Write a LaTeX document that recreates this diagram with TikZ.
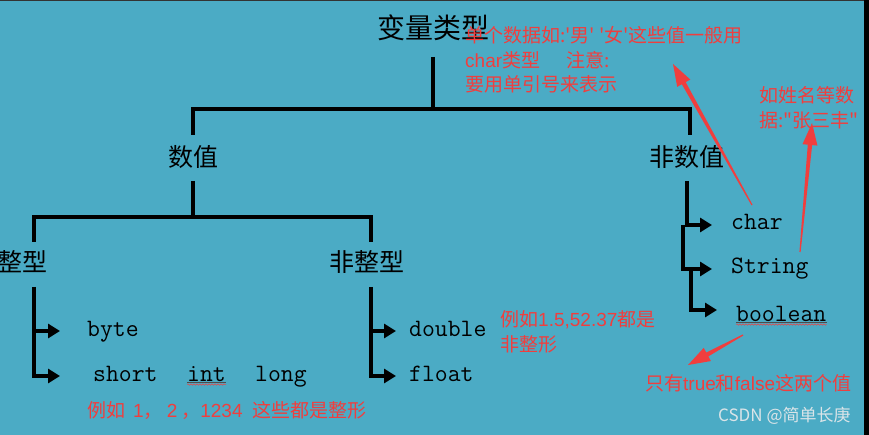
\documentclass[tikz,border=0pt]{standalone}
\usepackage{fontspec}
\usepackage{tikz}
\usetikzlibrary{arrows.meta,calc,decorations.pathmorphing}
\newfontfamily\cjk{Noto Sans CJK SC}[Ligatures=TeXOff]
\newfontfamily\lat{Liberation Sans}[Ligatures=TeXOff]
\definecolor{bgblue}{RGB}{75,171,197}
\definecolor{notered}{RGB}{240,62,62}
\definecolor{wmgray}{RGB}{218,228,232}
\tikzstyle{tree} = [line width=4.5pt, black]
\tikzstyle{arrow} = [tree, -{Triangle[length=12pt,width=14pt]}]
\tikzstyle{title} = [font=\cjk\fontsize{28}{28}\selectfont, inner sep=0pt]
\tikzstyle{cat} = [font=\cjk\fontsize{25}{25}\selectfont, inner sep=0pt]
\tikzstyle{typ} = [font=\ttfamily\fontsize{25}{25}\selectfont, anchor=west, inner sep=0pt, text height=15pt, text depth=5pt]
\tikzstyle{note} = [font=\cjk\fontsize{19}{24.5}\selectfont, text=notered, align=left, anchor=west, inner sep=0pt]
\tikzstyle{squiggle} = [notered, line width=0.5pt, decorate, decoration={snake, amplitude=0.7pt, segment length=3pt}]
\newcommand{\notearrow}[2]{%
  \coordinate (hb) at ($(#2)!22pt!(#1)$);
  \fill[notered] ($(#1)!0.6pt!90:(#2)$) -- ($(hb)!2.2pt!90:(#2)$) -- ($(hb)!7.5pt!90:(#2)$) -- (#2)
    -- ($(hb)!7.5pt!-90:(#2)$) -- ($(hb)!2.2pt!-90:(#2)$) -- ($(#1)!0.6pt!-90:(#2)$) -- cycle;}

\begin{document}
\begin{tikzpicture}[x=1pt,y=-1pt]
    \useasboundingbox (0,0) rectangle (869,435);
    \fill[bgblue] (0,0) rectangle (869,435);
    \fill[black!80] (0,0) rectangle (869,1.5);
    \fill[black] (864,0) rectangle (869,435);

    \node (var)[title] at (433,28) {变量类型};
    \node (num)[cat] at (193,157) {数值};
    \node (nonnum)[cat] at (687,157) {非数值};
    \node (intT)[cat] at (23,262) {整型};
    \node (nonint)[cat] at (367,262) {非整型};

    \node (byte)[typ] at (87,331) {byte};
    \node (short)[typ] at (93,376) {short};
    \node (int)[typ] at (187,376) {int};
    \node (long)[typ] at (255,376) {long};
    \node (double)[typ] at (409,331) {double};
    \node (float)[typ] at (409,376) {float};
    \node (char)[typ] at (731,225) {char};
    \node (string)[typ] at (731,269) {String};
    \node (bool)[typ] at (736,316) {boolean};

    \coordinate (j0) at (433,109);
    \coordinate (j1) at (193,217);
    \coordinate (bInt) at ([xshift=11pt,yshift=-25pt]intT.center);
    \coordinate (bNonint) at ([xshift=4pt,yshift=-25pt]nonint.center);
    \coordinate (bNon) at ([yshift=-24pt]nonnum.center);

    \draw [tree] ([yshift=-29pt]var.center) -- (j0);
    \draw [tree] ([yshift=22pt]num.center) |- (j0) -| ([xshift=3pt,yshift=22pt]nonnum.center);
    \draw [tree] ([yshift=-24pt]num.center) -- (j1);
    \draw [tree] ([xshift=11pt,yshift=20pt]intT.center) |- (j1) -| ([xshift=4pt,yshift=20pt]nonint.center);

    \draw [arrow, shorten >=27pt] (bInt |- byte.west) -- (byte.west);
    \draw [arrow, shorten >=33pt] (bInt) |- (short.west);
    \draw [arrow, shorten >=13pt] (bNonint |- double.west) -- (double.west);
    \draw [arrow, shorten >=13pt] (bNonint) |- (float.west);
    \draw [arrow, shorten >=19pt] (bNon) |- (char.west);
    \draw [arrow, shorten >=19pt] ($(bNon |- char.west)+(-4,0)$) |- (string.west);
    \draw [arrow, shorten >=19pt] ($(bNon |- string.west)+(4,0)$) |- ([yshift=6pt]bool.west);

    \draw [black!70, line width=0.6pt] ([yshift=-1.5pt]int.base west) -- ([yshift=-1.5pt]int.base east);
    \draw [squiggle] ([yshift=-3.5pt]int.base west) -- ([yshift=-3.5pt]int.base east);
    \draw [black!70, line width=0.6pt] ([yshift=-1.5pt]bool.base west) -- ([yshift=-1.5pt]bool.base east);
    \draw [squiggle] ([yshift=-3.5pt]bool.base west) -- ([yshift=-3.5pt]bool.base east);

    \node (charnote)[note] at (465,60) {单个数据如:'男' '女'这些值一般用\\{\lat char}类型\hspace{26pt}注意:\\要用单引号来表示};
    \node (strnote)[note] at (759,108) {如姓名等数\\据:"张三丰"};
    \node (floatnote)[note] at (500,332) {例如{\lat 1.5,52.37}都是\\非整形};
    \node (boolnote)[note] at (645,383) {只有{\lat true}和{\lat false}这两个值};
    \node (intnote)[note] at (87,410) {例如\hspace{8pt}{\lat 1}，\hspace{4pt}{\lat 2}\hspace{4pt}，{\lat 1234}\hspace{10pt}这些都是整形};
    \node (wm)[font=\cjk\fontsize{17}{17}\selectfont, text=wmgray, anchor=west, inner sep=0pt] at (718,416) {CSDN @简单长庚};

    \coordinate (charTail) at (752,205);
    \coordinate (charTip) at (673,64);
    \coordinate (strTail) at (800,252);
    \coordinate (strTip) at (812,123);
    \coordinate (boolTail) at (743,335);
    \coordinate (boolTip) at (688,365);
    \notearrow{charTail}{charTip}
    \notearrow{strTail}{strTip}
    \notearrow{boolTail}{boolTip}
\end{tikzpicture}
\end{document}
